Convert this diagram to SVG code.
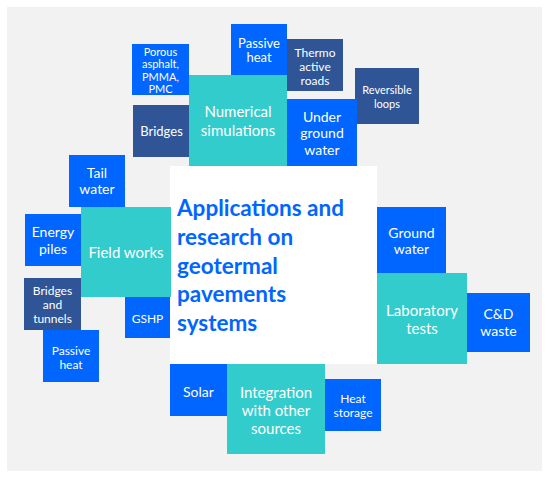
<svg xmlns="http://www.w3.org/2000/svg" width="550" height="479" viewBox="0 0 550 479">
<style>
.t{fill:#33CCCC}.b{fill:#0066FF}.d{fill:#2F5597}
text{font-family:Lato,"Open Sans","Liberation Sans",sans-serif;fill:#fff;text-anchor:middle}
.s15{font-size:15px}.s14{font-size:14px}.s13{font-size:13px}.s12{font-size:12px}.s11{font-size:11px}
.title{font-size:22.5px;font-weight:bold;fill:#0066FF;text-anchor:start}
</style>
<rect x="0" y="0" width="550" height="479" fill="#fff"/>
<rect x="7" y="7" width="535" height="464" fill="#F2F2F2"/>
<g id="connectors"/>
<g id="center"><rect x="170" y="166" width="207" height="198" fill="#fff"/>
<text class="title" x="177"><tspan x="177" y="216">Applications and</tspan><tspan x="177" y="245">research on</tspan><tspan x="177" y="273.5">geotermal</tspan><tspan x="177" y="302">pavements</tspan><tspan x="177" y="331">systems</tspan></text></g>
<g id="porous"><rect class="b" x="132" y="44" width="57" height="51"/><text class="s11"><tspan x="160.5" y="55.5">Porous</tspan><tspan x="160.5" y="68">asphalt,</tspan><tspan x="160.5" y="80.5">PMMA,</tspan><tspan x="160.5" y="93">PMC</tspan></text></g>
<g id="passive-top"><rect class="b" x="231" y="24" width="56" height="52"/><text class="s13"><tspan x="259" y="47.5">Passive</tspan><tspan x="259" y="62">heat</tspan></text></g>
<g id="thermo"><rect class="d" x="287" y="39" width="56" height="52"/><text class="s12"><tspan x="315" y="57">Thermo</tspan><tspan x="315" y="71">active</tspan><tspan x="315" y="85">roads</tspan></text></g>
<g id="reversible"><rect class="d" x="355" y="68" width="64" height="56"/><text class="s11"><tspan x="387" y="94">Reversible</tspan><tspan x="387" y="107.5">loops</tspan></text></g>
<g id="bridges-top"><rect class="d" x="133" y="105" width="57" height="52"/><text class="s13" x="161.5" y="136">Bridges</text></g>
<g id="underground"><rect class="b" x="287" y="99" width="70" height="67"/><text class="s14"><tspan x="322" y="121.5">Under</tspan><tspan x="322" y="138">ground</tspan><tspan x="322" y="155">water</tspan></text></g>
<g id="numerical"><rect class="t" x="189" y="75" width="98" height="91"/><text class="s15"><tspan x="238" y="117">Numerical</tspan><tspan x="238" y="135.5">simulations</tspan></text></g>
<g id="tail"><rect class="b" x="69" y="155" width="56" height="52"/><text class="s14"><tspan x="97" y="177.5">Tail</tspan><tspan x="97" y="194">water</tspan></text></g>
<g id="energy"><rect class="b" x="25" y="214" width="56" height="52"/><text class="s14"><tspan x="53" y="237">Energy</tspan><tspan x="53" y="254">piles</tspan></text></g>
<g id="bridges-tunnels"><rect class="d" x="24" y="278" width="57" height="52"/><text class="s12"><tspan x="52.5" y="294.5">Bridges</tspan><tspan x="52.5" y="309">and</tspan><tspan x="52.5" y="323">tunnels</tspan></text></g>
<g id="passive-left"><rect class="b" x="43" y="330" width="56" height="52"/><text class="s12"><tspan x="71" y="354.5">Passive</tspan><tspan x="71" y="368.5">heat</tspan></text></g>
<g id="gshp"><rect class="b" x="125" y="297" width="45" height="41"/><text class="s12" x="147.5" y="323">GSHP</text></g>
<g id="field"><rect class="t" x="81" y="207" width="90" height="90"/><text class="s15" x="126" y="257.5">Field works</text></g>
<g id="groundwater"><rect class="b" x="377" y="207" width="69" height="67"/><text class="s14"><tspan x="411.5" y="237.5">Ground</tspan><tspan x="411.5" y="254">water</tspan></text></g>
<g id="cdwaste"><rect class="b" x="467" y="293" width="63" height="59"/><text class="s14"><tspan x="498.5" y="319">C&amp;D</tspan><tspan x="498.5" y="335.5">waste</tspan></text></g>
<g id="laboratory"><rect class="t" x="377" y="273" width="90" height="91"/><text class="s15"><tspan x="422" y="316">Laboratory</tspan><tspan x="422" y="333.5">tests</tspan></text></g>
<g id="solar"><rect class="b" x="170" y="364" width="57" height="52"/><text class="s14" x="198.5" y="396.5">Solar</text></g>
<g id="heatstorage"><rect class="b" x="325" y="379" width="56" height="52"/><text class="s12"><tspan x="353" y="402.5">Heat</tspan><tspan x="353" y="417">storage</tspan></text></g>
<g id="integration"><rect class="t" x="227" y="364" width="98" height="90"/><text class="s15"><tspan x="276" y="397.5">Integration</tspan><tspan x="276" y="415.5">with other</tspan><tspan x="276" y="433.5">sources</tspan></text></g>
</svg>
